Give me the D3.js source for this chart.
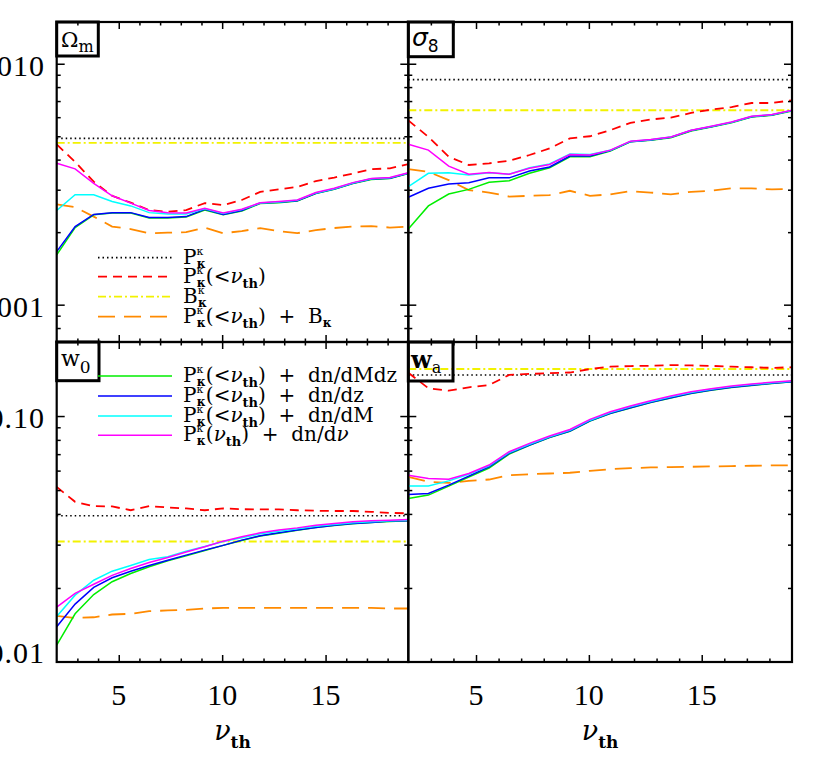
<!DOCTYPE html>
<html>
<head>
<meta charset="utf-8">
<script src="https://cdn.jsdelivr.net/npm/d3@7"></script>
<style>
  body { margin: 0; background: #fff; }
  text { white-space: pre; }
</style>
</head>
<body>
<div id="chart"></div>
<script>
const width = 817;
const height = 780;

// nu_th grid, 20 thresholds from 2 to 19
const nu = [2.00, 2.89, 3.79, 4.68, 5.58, 6.47, 7.37, 8.26, 9.16, 10.05,
            10.95, 11.84, 12.74, 13.63, 14.53, 15.42, 16.32, 17.21, 18.11, 19.00];

// Omega_m
const omP = 0.0049;
const omB = 0.00469;
const omPlt = [0.00463, 0.00391, 0.00324, 0.00283, 0.00265, 0.00247, 0.00243, 0.00247, 0.00264, 0.00259,
               0.00272, 0.00294, 0.00301, 0.00308, 0.00326, 0.00337, 0.00350, 0.00365, 0.00368, 0.00383];
const omPltB = [0.00261, 0.00254, 0.00232, 0.00211, 0.00206, 0.00198, 0.00199, 0.00200, 0.00209, 0.00198,
                0.00202, 0.00208, 0.00202, 0.00198, 0.00204, 0.00208, 0.00211, 0.00212, 0.00209, 0.00211];
const omDMdz = [0.00161, 0.00209, 0.00236, 0.00240, 0.00240, 0.00229, 0.00229, 0.00231, 0.00247, 0.00236,
                0.00245, 0.00263, 0.00265, 0.00269, 0.00289, 0.00301, 0.00318, 0.00331, 0.00334, 0.00350];
const omDz = [0.00166, 0.00211, 0.00237, 0.00241, 0.00241, 0.00230, 0.00230, 0.00232, 0.00249, 0.00237,
              0.00246, 0.00264, 0.00266, 0.00270, 0.00290, 0.00302, 0.00319, 0.00332, 0.00335, 0.00351];
const omDM = [0.00246, 0.00286, 0.00286, 0.00268, 0.00257, 0.00241, 0.00238, 0.00238, 0.00250, 0.00239,
              0.00248, 0.00264, 0.00267, 0.00271, 0.00291, 0.00303, 0.00320, 0.00333, 0.00336, 0.00352];
const omDnu = [0.00386, 0.00366, 0.00319, 0.00283, 0.00264, 0.00246, 0.00241, 0.00240, 0.00251, 0.00240,
               0.00249, 0.00265, 0.00268, 0.00272, 0.00292, 0.00304, 0.00321, 0.00334, 0.00337, 0.00353];

// sigma_8
const s8P = 0.00859;
const s8B = 0.00641;
const s8Plt = [0.00582, 0.00497, 0.00411, 0.00380, 0.00386, 0.00396, 0.00418, 0.00445, 0.00490, 0.00500,
               0.00530, 0.00568, 0.00587, 0.00598, 0.00625, 0.00645, 0.00661, 0.00687, 0.00687, 0.00705];
const s8PltB = [0.00365, 0.00356, 0.00329, 0.00299, 0.00292, 0.00281, 0.00283, 0.00285, 0.00297, 0.00283,
                0.00287, 0.00296, 0.00292, 0.00287, 0.00294, 0.00297, 0.00304, 0.00304, 0.00301, 0.00302];
const s8DMdz = [0.00206, 0.00257, 0.00288, 0.00301, 0.00322, 0.00327, 0.00351, 0.00370, 0.00411, 0.00411,
                0.00434, 0.00474, 0.00481, 0.00493, 0.00526, 0.00546, 0.00569, 0.00601, 0.00611, 0.00637];
const s8Dz = [0.00279, 0.00304, 0.00317, 0.00321, 0.00336, 0.00336, 0.00359, 0.00373, 0.00414, 0.00414,
              0.00436, 0.00475, 0.00483, 0.00495, 0.00528, 0.00548, 0.00571, 0.00603, 0.00613, 0.00639];
const s8DM = [0.00309, 0.00351, 0.00353, 0.00345, 0.00353, 0.00348, 0.00370, 0.00384, 0.00422, 0.00420,
              0.00437, 0.00476, 0.00484, 0.00496, 0.00529, 0.00549, 0.00572, 0.00604, 0.00614, 0.00640];
const s8Dnu = [0.00463, 0.00438, 0.00376, 0.00348, 0.00354, 0.00348, 0.00368, 0.00382, 0.00420, 0.00418,
               0.00438, 0.00477, 0.00485, 0.00497, 0.00530, 0.00550, 0.00573, 0.00605, 0.00615, 0.00641];

// w_0
const w0P = 0.0393;
const w0B = 0.0309;
const w0Plt = [0.0515, 0.0448, 0.0430, 0.0429, 0.0414, 0.0430, 0.0425, 0.0421, 0.0414, 0.0421,
               0.0418, 0.0417, 0.0417, 0.0414, 0.0412, 0.0411, 0.0411, 0.0408, 0.0404, 0.0402];
const w0PltB = [0.0154, 0.0151, 0.0152, 0.0156, 0.0157, 0.0161, 0.0162, 0.0163, 0.0165, 0.0166,
                0.0166, 0.0166, 0.0166, 0.0166, 0.0166, 0.0166, 0.0166, 0.0166, 0.0165, 0.0165];
const w0DMdz = [0.0117, 0.0157, 0.0188, 0.0212, 0.0229, 0.0244, 0.0258, 0.0270, 0.0284, 0.0298,
                0.0312, 0.0325, 0.0334, 0.0343, 0.0352, 0.0359, 0.0365, 0.0369, 0.0373, 0.0375];
const w0Dz = [0.0139, 0.0172, 0.0201, 0.0220, 0.0234, 0.0247, 0.0259, 0.0272, 0.0285, 0.0298,
              0.0313, 0.0326, 0.0335, 0.0344, 0.0352, 0.0360, 0.0366, 0.0369, 0.0374, 0.0375];
const w0DM = [0.0153, 0.0187, 0.0215, 0.0234, 0.0247, 0.0261, 0.0268, 0.0282, 0.0295, 0.0309,
              0.0320, 0.0332, 0.0340, 0.0348, 0.0356, 0.0362, 0.0368, 0.0372, 0.0375, 0.0377];
const w0Dnu = [0.0167, 0.0190, 0.0207, 0.0225, 0.0240, 0.0254, 0.0266, 0.0280, 0.0294, 0.0310,
               0.0323, 0.0335, 0.0344, 0.0351, 0.0360, 0.0366, 0.0372, 0.0375, 0.0377, 0.0380];

// w_a
const waP = 0.1469;
const waB = 0.1553;
const waPlt = [0.1500, 0.1297, 0.1268, 0.1309, 0.1337, 0.1469, 0.1483, 0.1493, 0.1503, 0.1553,
               0.1587, 0.1597, 0.1600, 0.1612, 0.1606, 0.1600, 0.1587, 0.1579, 0.1570, 0.1579];
const waPltB = [0.0566, 0.0540, 0.0535, 0.0545, 0.0552, 0.0575, 0.0580, 0.0584, 0.0588, 0.0599,
                0.0608, 0.0614, 0.0618, 0.0620, 0.0622, 0.0624, 0.0626, 0.0628, 0.0630, 0.0630];
const waDMdz = [0.0462, 0.0477, 0.0519, 0.0565, 0.0615, 0.0700, 0.0760, 0.0817, 0.0867, 0.0955,
                0.1024, 0.1079, 0.1135, 0.1185, 0.1235, 0.1274, 0.1307, 0.1332, 0.1357, 0.1377];
const waDz = [0.0480, 0.0484, 0.0524, 0.0570, 0.0622, 0.0705, 0.0762, 0.0819, 0.0869, 0.0957,
              0.1026, 0.1081, 0.1137, 0.1187, 0.1237, 0.1276, 0.1309, 0.1334, 0.1359, 0.1379];
const waDM = [0.0520, 0.0520, 0.0545, 0.0580, 0.0627, 0.0711, 0.0768, 0.0823, 0.0875, 0.0962,
              0.1033, 0.1090, 0.1146, 0.1197, 0.1247, 0.1284, 0.1317, 0.1342, 0.1366, 0.1385];
const waDnu = [0.0575, 0.0557, 0.0554, 0.0584, 0.0632, 0.0716, 0.0774, 0.0829, 0.0882, 0.0969,
               0.1041, 0.1098, 0.1154, 0.1206, 0.1256, 0.1292, 0.1325, 0.1350, 0.1372, 0.1392];

// ticks
const xMajor = [5, 10, 15];
const xMinor = [3, 4, 6, 7, 8, 9, 11, 12, 13, 14, 16, 17, 18];
const topMajor = [0.001, 0.01];
const topMinor = [0.0008, 0.0009, 0.002, 0.003, 0.004, 0.005, 0.006, 0.007, 0.008, 0.009];
const botMajor = [0.1];
const botMinor = [0.02, 0.03, 0.04, 0.05, 0.06, 0.07, 0.08, 0.09];
const topLabels = ['0.010', '0.001'];
const botLabels = ['0.10', '0.01'];

const svg = d3.select('#chart')
    .append('svg')
    .attr('width', width)
    .attr('height', height);

const xLeft = d3.scaleLinear().domain([2, 19]).range([56.7, 408.3]);
const xRight = d3.scaleLinear().domain([2, 19]).range([408.3, 792]);
const yTop = d3.scaleLog().domain([0.0007, 0.0149]).range([342, 22]);
const yBottom = d3.scaleLog().domain([0.01, 0.2]).range([662, 342]);

const serif = '"DejaVu Serif", serif';
const numFont = '"Liberation Serif", serif';

const cols = {
    P: '#000000', Plt: '#ff0000', B: '#f2f200', PltB: '#ff8a00',
    DMdz: '#00ee00', Dz: '#0000ff', DM: '#00ffff', Dnu: '#ff00ff'
};
const dashes = { P: '1.5,3', Plt: '9,6', B: '8,3,2,3', PltB: '17,9' };

const panels = [
    { id: 'om', x: xLeft, y: yTop, P: omP, B: omB, Plt: omPlt, PltB: omPltB,
      DMdz: omDMdz, Dz: omDz, DM: omDM, Dnu: omDnu },
    { id: 's8', x: xRight, y: yTop, P: s8P, B: s8B, Plt: s8Plt, PltB: s8PltB,
      DMdz: s8DMdz, Dz: s8Dz, DM: s8DM, Dnu: s8Dnu },
    { id: 'w0', x: xLeft, y: yBottom, P: w0P, B: w0B, Plt: w0Plt, PltB: w0PltB,
      DMdz: w0DMdz, Dz: w0Dz, DM: w0DM, Dnu: w0Dnu },
    { id: 'wa', x: xRight, y: yBottom, P: waP, B: waB, Plt: waPlt, PltB: waPltB,
      DMdz: waDMdz, Dz: waDz, DM: waDM, Dnu: waDnu }
];

// text with sub/superscripts: parts [{t, size, sh (baseline shift), dx, it, b}]
function rich(g, x, y, size, parts, anchor) {
    const t = g.append('text')
        .attr('x', x)
        .attr('y', y)
        .attr('text-anchor', anchor || 'start')
        .style('font-family', serif)
        .style('font-size', size + 'px');
    let cur = 0;
    parts.forEach(function (p) {
        const s = t.append('tspan').text(p.t);
        const sh = p.sh || 0;
        s.attr('dy', sh - cur);
        cur = sh;
        if (p.dx) s.attr('dx', p.dx);
        if (p.size) s.style('font-size', p.size + 'px');
        if (p.it) s.style('font-style', 'italic');
        if (p.b) s.style('font-weight', 'bold');
        if (p.f) s.style('font-family', p.f);
    });
    return t;
}

panels.forEach(function (p) {
    const x = p.x, y = p.y;
    const x0 = x.range()[0], x1 = x.range()[1];
    const y0 = y.range()[1], y1 = y.range()[0];
    const g = svg.append('g');

    g.append('clipPath').attr('id', 'clip-' + p.id)
        .append('rect')
        .attr('x', x0).attr('y', y0)
        .attr('width', x1 - x0).attr('height', y1 - y0);

    const plot = g.append('g').attr('clip-path', 'url(#clip-' + p.id + ')');

    ['P', 'B'].forEach(function (k) {
        plot.append('line')
            .attr('x1', x(2)).attr('x2', x(19))
            .attr('y1', y(p[k])).attr('y2', y(p[k]))
            .attr('stroke', cols[k])
            .attr('stroke-width', k === 'P' ? 1.6 : 1.8)
            .attr('stroke-dasharray', dashes[k]);
    });

    const line = d3.line()
        .x(function (d, i) { return x(nu[i]); })
        .y(function (d) { return y(d); });

    ['Plt', 'PltB', 'DMdz', 'Dz', 'DM', 'Dnu'].forEach(function (k) {
        plot.append('path')
            .datum(p[k])
            .attr('d', line)
            .attr('fill', 'none')
            .attr('stroke', cols[k])
            .attr('stroke-width', dashes[k] ? 1.8 : 1.5)
            .attr('stroke-dasharray', dashes[k] || null);
    });

    // inward ticks on all four sides
    const tickSets = [
        [d3.axisBottom(x).tickValues(xMinor).tickSize(-3.5), 'translate(0,' + y1 + ')'],
        [d3.axisBottom(x).tickValues(xMajor).tickSize(-7), 'translate(0,' + y1 + ')'],
        [d3.axisTop(x).tickValues(xMinor).tickSize(-3.5), 'translate(0,' + y0 + ')'],
        [d3.axisTop(x).tickValues(xMajor).tickSize(-7), 'translate(0,' + y0 + ')'],
        [d3.axisLeft(y).tickValues(y === yTop ? topMinor : botMinor).tickSize(-4), 'translate(' + x0 + ',0)'],
        [d3.axisLeft(y).tickValues(y === yTop ? topMajor : botMajor).tickSize(-8), 'translate(' + x0 + ',0)'],
        [d3.axisRight(y).tickValues(y === yTop ? topMinor : botMinor).tickSize(-4), 'translate(' + x1 + ',0)'],
        [d3.axisRight(y).tickValues(y === yTop ? topMajor : botMajor).tickSize(-8), 'translate(' + x1 + ',0)']
    ];
    tickSets.forEach(function (ts) {
        const a = g.append('g')
            .attr('transform', ts[1])
            .call(ts[0].tickFormat(''));
        a.select('.domain').remove();
        a.selectAll('line').attr('stroke', '#000').attr('stroke-width', 1.5);
    });

    g.append('rect')
        .attr('x', x0).attr('y', y0)
        .attr('width', x1 - x0).attr('height', y1 - y0)
        .attr('fill', 'none')
        .attr('stroke', '#000')
        .attr('stroke-width', 2.2);
});

// y tick labels (left panels only)
function yLabel(text, yPos) {
    svg.append('text')
        .attr('x', 45).attr('y', yPos)
        .attr('text-anchor', 'end')
        .style('font-family', numFont).style('font-size', '30px')
        .style('letter-spacing', '1px')
        .text(text);
}
yLabel(topLabels[0], yTop(0.01) + 12);
yLabel(topLabels[1], yTop(0.001) + 12);
yLabel(botLabels[0], yBottom(0.1) + 12);
yLabel(botLabels[1], yBottom(0.01) + 1);

// x tick labels and axis titles
[xLeft, xRight].forEach(function (x) {
    xMajor.forEach(function (v) {
        svg.append('text')
            .attr('x', x(v)).attr('y', 705)
            .attr('text-anchor', 'middle')
            .style('font-family', numFont).style('font-size', '30px')
            .text(v);
    });
    const cx = (x.range()[0] + x.range()[1]) / 2;
    rich(svg, cx, 740, 27, [
        { t: 'ν', it: true },
        { t: 'th', size: 17, sh: 8, b: true }
    ], 'middle');
});

// panel label boxes
const boxes = [
    { x: 56.7, y: 22, w: 41.6, h: 34 },
    { x: 408.3, y: 22, w: 45, h: 34.7 },
    { x: 56.7, y: 342, w: 42.3, h: 38.7 },
    { x: 408.3, y: 342, w: 44.7, h: 39 }
];
boxes.forEach(function (b) {
    svg.append('rect')
        .attr('x', b.x).attr('y', b.y).attr('width', b.w).attr('height', b.h)
        .attr('fill', 'none').attr('stroke', '#000').attr('stroke-width', 3);
});
rich(svg, 61, 47, 21, [{ t: 'Ω' }, { t: 'm', size: 16, sh: 5 }]);
rich(svg, 412, 46, 25, [{ t: 'σ', it: true, f: '"DejaVu Sans", sans-serif' },
                        { t: '8', size: 17, sh: 6, f: '"DejaVu Sans", sans-serif' }]);
rich(svg, 61, 366, 22, [{ t: 'w' }, { t: '0', size: 17, sh: 7 }]);
rich(svg, 411, 368, 24, [{ t: 'w', b: true }, { t: 'a', size: 16, sh: 5 }]);

// legends
const Pk = [{ t: 'P' }, { t: 'κ', size: 11, sh: -9 }, { t: 'κ', size: 12, sh: 4, dx: -6.5, b: true }];
const Bk = [{ t: 'B' }, { t: 'κ', size: 11, sh: -9 }, { t: 'κ', size: 12, sh: 4, dx: -6.5, b: true }];
const lt = [{ t: '(<', sh: 0 }, { t: 'ν', it: true }, { t: 'th', size: 13, sh: 5, b: true }, { t: ')', sh: 0 }];

const legendTop = [
    { k: 'P', y: 257.7, parts: Pk },
    { k: 'Plt', y: 276.7, parts: Pk.concat(lt) },
    { k: 'B', y: 296.7, parts: Bk },
    { k: 'PltB', y: 316.7, parts: Pk.concat(lt, [{ t: '  +  B' }, { t: 'κ', size: 12, sh: 4, b: true }]) }
];
const legendBot = [
    { k: 'DMdz', y: 376, parts: Pk.concat(lt, [{ t: '  +  dn/dMdz' }]) },
    { k: 'Dz', y: 396, parts: Pk.concat(lt, [{ t: '  +  dn/dz' }]) },
    { k: 'DM', y: 416, parts: Pk.concat(lt, [{ t: '  +  dn/dM' }]) },
    { k: 'Dnu', y: 435.3, parts: Pk.concat([{ t: '(', sh: 0 }, { t: 'ν', it: true },
        { t: 'th', size: 13, sh: 5, b: true }, { t: ')  +  dn/d', sh: 0 }, { t: 'ν', it: true }]) }
];
legendTop.concat(legendBot).forEach(function (e) {
    svg.append('line')
        .attr('x1', 98).attr('x2', 172)
        .attr('y1', e.y).attr('y2', e.y)
        .attr('stroke', cols[e.k])
        .attr('stroke-width', dashes[e.k] ? 1.8 : 1.5)
        .attr('stroke-dasharray', dashes[e.k] || null);
    rich(svg, 183, e.y + 6, 20, e.parts);
});
</script>
</body>
</html>
